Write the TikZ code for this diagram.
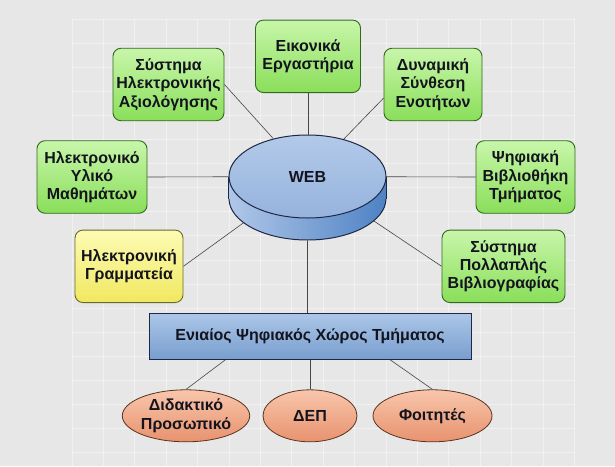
\documentclass[tikz,border=0pt]{standalone}
\usepackage{fontspec}
\setmainfont{Liberation Sans}
\usetikzlibrary{calc,shapes.geometric}

\definecolor{bggray}{RGB}{231,231,231}
\definecolor{txtcol}{RGB}{20,20,30}
\definecolor{linecol}{RGB}{70,70,70}
\definecolor{greentop}{RGB}{200,246,170}
\definecolor{greenbot}{RGB}{138,222,90}
\definecolor{greenline}{RGB}{50,105,30}
\definecolor{yellowtop}{RGB}{253,251,180}
\definecolor{yellowbot}{RGB}{240,232,96}
\definecolor{yellowline}{RGB}{105,105,40}
\definecolor{bluetop}{RGB}{172,198,232}
\definecolor{bluebot}{RGB}{120,158,206}
\definecolor{blueline}{RGB}{30,40,70}
\definecolor{salmontop}{RGB}{248,198,172}
\definecolor{salmonbot}{RGB}{232,146,110}
\definecolor{salmonline}{RGB}{90,50,30}
\definecolor{webtopcol}{RGB}{178,201,233}
\definecolor{webmidcol}{RGB}{150,179,221}
\definecolor{websideA}{RGB}{176,199,232}
\definecolor{websideB}{RGB}{78,130,196}

\begin{document}
\begin{tikzpicture}[x=1pt, y=-1pt,
    font=\fontsize{16}{18.3}\selectfont\bfseries,
    greenbox/.style={draw=greenline, line width=0.9pt, rounded corners=8pt,
        top color=greentop, bottom color=greenbot, text=txtcol,
        align=center, inner sep=0pt, minimum height=72.5pt},
    yellowbox/.style={greenbox, draw=yellowline, top color=yellowtop, bottom color=yellowbot},
    persons/.style={ellipse, draw=salmonline, line width=0.8pt,
        top color=salmontop, bottom color=salmonbot, text=txtcol,
        align=center, inner sep=0pt, minimum height=52pt},
    disc/.style={ellipse, draw=blueline, line width=1pt, inner sep=0pt,
        minimum width=157pt, minimum height=83pt},
    conn/.style={draw=linecol, line width=0.6pt}]

% Background
\fill[bggray] (0,0) rectangle (615,466);
\foreach \gx in {0,...,16}
    \draw[white, opacity=0.45, line width=0.7pt] (72+31.4*\gx,19) -- (72+31.4*\gx,466);
\foreach \gy in {-1,...,17}
    \draw[white, opacity=0.45, line width=0.7pt] (72,43+24.1*\gy) -- (575,43+24.1*\gy);
\useasboundingbox (0,0) rectangle (615,466);

% Services
\node[greenbox, minimum width=105pt] (eik) at (308,56.3) {Εικονικά\\Εργαστήρια};
\node[greenbox, minimum width=111pt] (axiol) at (168.5,84.5) {Σύστημα\\Ηλεκτρονικής\\Αξιολόγησης};
\node[greenbox, minimum width=98pt] (dynam) at (433,84.5) {Δυναμική\\Σύνθεση\\Ενοτήτων};
\node[greenbox, minimum width=110pt] (yliko) at (92,177) {Ηλεκτρονικό\\Υλικό\\Μαθημάτων};
\node[greenbox, minimum width=99pt] (vivlio) at (525.5,177) {Ψηφιακή\\Βιβλιοθήκη\\Τμήματος};
\node[yellowbox, minimum width=108pt] (gramm) at (129,266.3) {Ηλεκτρονική\\Γραμματεία};
\node[greenbox, minimum width=123pt] (polla) at (503.5,266.3) {Σύστημα\\Πολλαπλής\\Βιβλιογραφίας};

% Lower connectors go under the disc
\coordinate (webtop) at (307.5,176.5);
\draw[conn] (gramm.east) -- (webtop);
\draw[conn] (polla.west) -- (webtop);

% WEB disc
\node[disc, left color=websideA, right color=websideB] (webbase) at (307.5,198.5) {};
\shade[left color=websideA, right color=websideB] (webbase.west) rectangle ($(webbase.east)+(0,-22)$);
\draw[blueline, line width=1pt] (webbase.west) -- ++(0,-22) (webbase.east) -- ++(0,-22);
\node[disc, top color=webtopcol, bottom color=webmidcol, text=txtcol] (web) at (webtop) {WEB};

% Unified space
\node[draw=blueline, line width=0.9pt, top color=bluetop, bottom color=bluebot, text=txtcol,
    minimum width=322pt, minimum height=46pt, inner sep=0pt] (esp) at (310,336.3) {Ενιαίος Ψηφιακός Χώρος Τμήματος};

% Users
\node[persons, minimum width=122pt] (didak) at (186,415.8) {Διδακτικό\\Προσωπικό};
\node[persons, minimum width=94pt] (dep) at (310,415.8) {ΔΕΠ};
\node[persons, minimum width=119pt] (foit) at (432.5,415.8) {Φοιτητές};

% Points for the connectors
\coordinate (dynout) at ($(dynam.west)!0.37!(dynam.south west)$);
\coordinate (espleft) at ($(esp.south west)!0.238!(esp.south east)$);
\coordinate (espright) at ($(esp.south west)!0.748!(esp.south east)$);

% Connectors
\draw[conn] (eik) -- (eik |- web.north);
\draw[conn] (axiol.east) -- (web);
\draw[conn] (dynout) -- (web);
\draw[conn] (yliko.east) -- (web);
\draw[conn] (vivlio.west) -- (web);
\draw[conn] (webbase.south) -- (webbase.south |- esp.north);

\draw[conn] (espleft) -- (didak.north);
\draw[conn] (esp.south -| dep.north) -- (dep.north);
\draw[conn] (espright) -- (foit.north);
\end{tikzpicture}
\end{document}
